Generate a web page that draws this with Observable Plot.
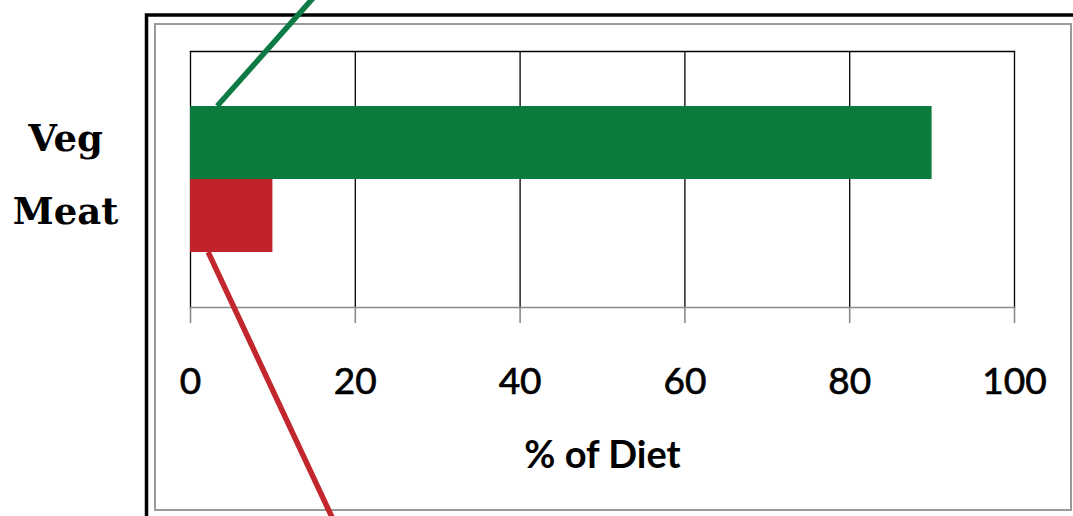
<!DOCTYPE html>
<html><head><meta charset="utf-8">
<script src="https://cdn.jsdelivr.net/npm/d3@7"></script>
<script src="https://cdn.jsdelivr.net/npm/@observablehq/plot@0.6"></script>
<style>body{margin:0;background:#fff} svg{display:block}</style>
</head><body><div id="chart"></div>
<script>
const categories = ["Veg", "Meat"];
const values = [90, 10];
const colors = ["#0b7a3d", "#c1232b"];
const xTicks = [0, 20, 40, 60, 80, 100];
const xLabel = "% of Diet";
// leader lines: anchor value on the bar edge and direction (dx per dy)
const leaders = [
  {category: "Veg", value: 3.3, edge: "top", slope: -0.888, color: "#0e7a45"},
  {category: "Meat", value: 2.2, edge: "bottom", slope: 0.467, color: "#c1272d"}
];

const data = categories.map((c, i) => ({category: c, value: values[i], color: colors[i]}));

const plot = Plot.plot({
  width: 1073, height: 516,
  marginLeft: 190, marginRight: 59, marginTop: 51, marginBottom: 209,
  style: {background: "transparent", fontFamily: "Lato, sans-serif", color: "black"},
  x: {domain: [0, 100], ticks: xTicks},
  y: {domain: categories, paddingInner: 0, paddingOuter: 0.75},
  marks: [
    Plot.frame({anchor: "top", stroke: "black", strokeWidth: 1.3}),
    Plot.gridX(xTicks, {stroke: "black", strokeOpacity: 1, strokeWidth: 1.3}),
    Plot.barX(data, {x: "value", y: "category", fill: "color"}),
    Plot.frame({anchor: "bottom", stroke: "#8a8a8a", strokeWidth: 1.6}),
    Plot.axisX(xTicks, {tickSize: 16, tickPadding: 44, stroke: "#8a8a8a", strokeWidth: 1.6, fill: "black", fontSize: 37, label: null}),
    Plot.axisY({tickSize: 0, tickPadding: 125, textAnchor: "middle", fontFamily: "DejaVu Serif", fontWeight: "bold", fontSize: 37, dy: -4, label: null, fill: "black"}),
    Plot.text([xLabel], {text: d => d, frameAnchor: "bottom", dy: 160, fontSize: 38, fontWeight: "bold", fill: "black"})
  ]
});

const svg = d3.select(plot);
// heavier tick labels, like the original's
svg.selectAll("g[aria-label='x-axis tick label'] text")
  .attr("stroke", "black").attr("stroke-width", 0.7);
// slide frames
svg.insert("rect", ":first-child")
  .attr("x", 155).attr("y", 24).attr("width", 916).attr("height", 486)
  .attr("fill", "none").attr("stroke", "#9a9a9a").attr("stroke-width", 2);
svg.insert("rect", ":first-child")
  .attr("x", 146.5).attr("y", 15).attr("width", 1000).attr("height", 600)
  .attr("fill", "none").attr("stroke", "black").attr("stroke-width", 3.5);
svg.insert("rect", ":first-child")
  .attr("x", 0).attr("y", 0).attr("width", 1073).attr("height", 516).attr("fill", "white");

const xs = plot.scale("x"), ys = plot.scale("y");
for (const l of leaders) {
  const x0 = xs.apply(l.value);
  const y0 = ys.apply(l.category) + (l.edge === "bottom" ? ys.bandwidth : 0);
  const y1 = l.edge === "bottom" ? 525 : -8;
  const x1 = x0 + (y1 - y0) * l.slope;
  svg.append("line").attr("x1", x0).attr("y1", y0).attr("x2", x1).attr("y2", y1)
    .attr("stroke", l.color).attr("stroke-width", 5.5);
}
document.getElementById("chart").appendChild(plot);
</script>
</body></html>
